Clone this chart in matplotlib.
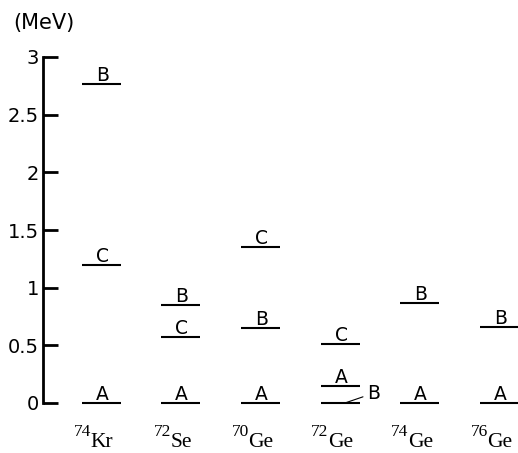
import matplotlib
matplotlib.use("Agg")
import matplotlib.pyplot as plt

plt.rcParams['font.family'] = ['DejaVu Sans']

# Data
mass_numbers = ['74', '72', '70', '72', '74', '76']
elements = ['Kr', 'Se', 'Ge', 'Ge', 'Ge', 'Ge']
A_energy = [0.0, 0.0, 0.0, 0.15, 0.0, 0.0]
B_energy = [2.77, 0.85, 0.65, 0.0, 0.865, 0.66]
C_energy = [1.20, 0.57, 1.35, 0.515, None, None]
yticks = [0, 0.5, 1, 1.5, 2, 2.5, 3]
ytick_labels = ['0', '0.5', '1', '1.5', '2', '2.5', '3']

fig = plt.figure(figsize=(5.18, 4.53), dpi=100)
ax = fig.add_axes([42.5/518, 50/453, (518-42.5)/518, 346/453])
ax.set_xlim(-0.736, 5.233)
ax.set_ylim(0, 3)

half = 0.245
for i in range(len(elements)):
    for E, lab in ((A_energy[i], 'A'), (B_energy[i], 'B'), (C_energy[i], 'C')):
        if E is None:
            continue
        ax.hlines(E, i - half, i + half, color='black', lw=1.5, clip_on=False)
        if i == 3 and lab == 'B':
            continue
        ax.annotate(lab, xy=(i, E), xytext=(1, 3), textcoords='offset pixels',
                    ha='center', va='baseline', fontsize=13.5, annotation_clip=False)

# Isotope labels: superscript mass number + element symbol (serif)
sup_texts, base_texts = [], []
for i in range(len(elements)):
    t1 = ax.annotate(mass_numbers[i], xy=(i, 0), xytext=(0, -33.4),
                     textcoords='offset pixels', ha='left', va='baseline',
                     fontsize=12.5, family='Liberation Serif', annotation_clip=False)
    t2 = ax.annotate(elements[i], xy=(i, 0), xytext=(0, -44),
                     textcoords='offset pixels', ha='left', va='baseline',
                     fontsize=15.5, family='Liberation Serif', annotation_clip=False)
    sup_texts.append(t1)
    base_texts.append(t2)

fig.canvas.draw()
renderer = fig.canvas.get_renderer()
for t1, t2 in zip(sup_texts, base_texts):
    w1 = t1.get_window_extent(renderer).width
    w2 = t2.get_window_extent(renderer).width
    x0 = -8 - (w1 + w2) / 2
    t1.set_position((x0 + 0.5, -33.4))
    t2.set_position((x0 + w1, -44))

# Annotated B level for 72Ge
ax.annotate('B', xy=(3.06, 0.0), xytext=(3.42, 0.085), ha='center', va='center',
            fontsize=13.5, annotation_clip=False,
            arrowprops=dict(arrowstyle='-', lw=0.8, color='black',
                            shrinkA=1, shrinkB=0))

for s in ['top', 'right', 'bottom']:
    ax.spines[s].set_visible(False)
ax.spines['left'].set_linewidth(2)
ax.set_xticks([])
ax.set_yticks(yticks)
ax.set_yticklabels(ytick_labels)
ax.tick_params(axis='y', direction='in', length=11, width=2, pad=2.5, labelsize=14)

fig.text(13/518, 1 - 22.5/453, '(MeV)', ha='left', va='center', fontsize=15)

fig.savefig('out.png', dpi=100)
